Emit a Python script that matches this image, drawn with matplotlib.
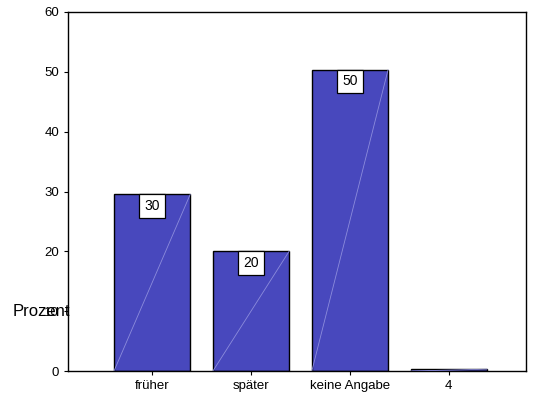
import matplotlib
matplotlib.use('Agg')
import matplotlib.pyplot as plt

categories = ['früher', 'später', 'keine Angabe', '4']
percent = [29.5, 20.0, 50.3, 0.3]
box_labels = ['30', '20', '50', None]

plt.rcParams['font.family'] = ['Liberation Sans', 'DejaVu Sans']

fig = plt.figure(figsize=(5.34, 4.05), dpi=100)
ax = fig.add_axes([68/534, 1 - 371/405, (526-68)/534, (371-12)/405])

x = list(range(len(categories)))
w = 0.77
bars = ax.bar(x, percent, width=w, color='#4848bd', edgecolor='black', linewidth=1)

# faint diagonal in each bar
for xi, v in zip(x, percent):
    ax.plot([xi - w/2, xi + w/2], [0, v], color='#8c8cdc', linewidth=0.6, zorder=3)

for xi, v, lab in zip(x, percent, box_labels):
    if lab:
        ax.text(xi, v - 1.9, lab, ha='center', va='center', fontsize=10, zorder=4,
                bbox=dict(boxstyle='square,pad=0.35', facecolor='white', edgecolor='black', linewidth=0.9))

ax.set_xlim(-0.85, 3.78)
ax.set_ylim(0, 60)
ax.set_yticks(range(0, 61, 10))
ax.set_xticks(x)
ax.set_xticklabels(categories)
ax.tick_params(labelsize=9.5, length=3, width=0.8)
for s in ax.spines.values():
    s.set_linewidth(1)

fig.text(13/534, 1 - 311/405, 'Prozent', fontsize=12, ha='left', va='center')

fig.savefig('out.png', dpi=100)
